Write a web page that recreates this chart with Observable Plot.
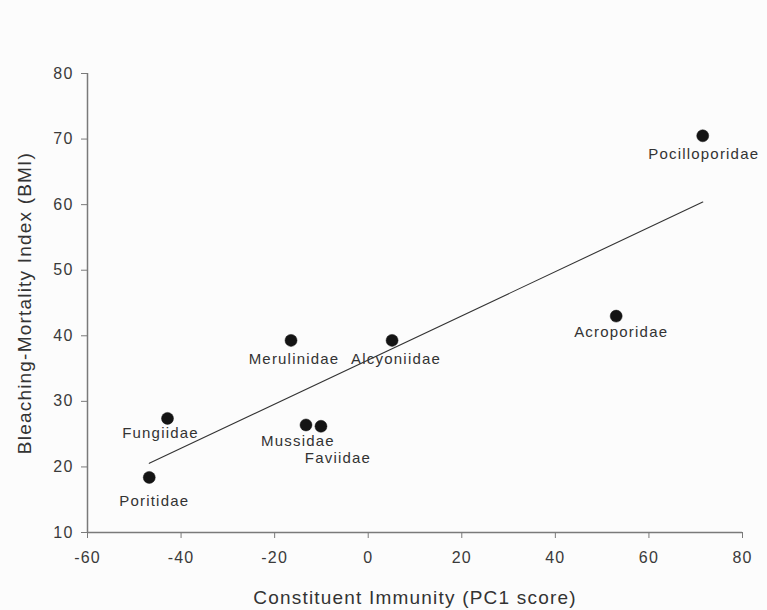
<!DOCTYPE html>
<html>
<head>
<meta charset="utf-8">
<script src="https://cdn.jsdelivr.net/npm/d3@7"></script>
<script src="https://cdn.jsdelivr.net/npm/@observablehq/plot@0.6"></script>
<style>
  html, body { margin: 0; padding: 0; background: #fcfcfc; }
  #chart svg { display: block; }
</style>
</head>
<body>
<div id="chart"></div>
<script>
// Coral families: constituent immunity (PC1 score) vs bleaching-mortality index
const families = ["Pocilloporidae", "Acroporidae", "Alcyoniidae", "Merulinidae",
                  "Mussidae", "Faviidae", "Fungiidae", "Poritidae"];
const pc1 = [71.5, 53.0, 5.1, -16.5, -13.3, -10.1, -42.9, -46.8];
const bmi = [70.5, 43.0, 39.3, 39.3, 26.4, 26.2, 27.4, 18.4];

const xTicks = [-60, -40, -20, 0, 20, 40, 60, 80];
const yTicks = [10, 20, 30, 40, 50, 60, 70, 80];
const xTitle = "Constituent Immunity (PC1 score)";
const yTitle = "Bleaching-Mortality Index (BMI)";

const rows = families.map((name, i) => ({name, pc1: pc1[i], bmi: bmi[i]}));
const xDomain = [xTicks[0], xTicks[xTicks.length - 1]];
const yDomain = [yTicks[0], yTicks[yTicks.length - 1]];

// label placement relative to each dot (pixels)
const nudge = {
  Pocilloporidae: [1, 18], Acroporidae: [5, 16], Alcyoniidae: [4, 19],
  Merulinidae: [3, 19], Mussidae: [-8, 16], Faviidae: [17, 32],
  Fungiidae: [-7, 15], Poritidae: [5, 24]
};

const font = "'Liberation Sans', Arial, sans-serif";
const ink = "#333";
const axisGray = "#7a7a7a";
const labelStyle = {fontFamily: font, fontSize: 15, fill: ink, letterSpacing: "1.3px"};
const titleStyle = {fontFamily: font, fontSize: 19, fill: ink, letterSpacing: "1px",
                    textAnchor: "middle", lineAnchor: "middle"};

const chart = Plot.plot({
  width: 767,
  height: 610,
  marginLeft: 87,
  marginRight: 25,
  marginTop: 73,
  marginBottom: 78,
  style: {fontFamily: font, fontSize: "16px", color: "#3a3a3a", background: "#fcfcfc", letterSpacing: "1.2px"},
  x: {domain: xDomain},
  y: {domain: yDomain},
  marks: [
    // axis baselines
    Plot.ruleY([yDomain[0]], {stroke: axisGray, strokeWidth: 1.5}),
    Plot.ruleX([xDomain[0]], {stroke: axisGray, strokeWidth: 1.5}),
    Plot.axisX({
      ticks: xTicks, tickFormat: d => String(d), tickSize: 6, tickPadding: 13,
      stroke: axisGray, label: null, fontSize: 16
    }),
    Plot.axisY({
      ticks: yTicks, tickFormat: d => String(d), tickSize: 6, tickPadding: 8,
      stroke: axisGray, label: null, fontSize: 16
    }),
    // axis titles
    Plot.text([xTitle], {text: d => d, frameAnchor: "bottom", dy: 65, ...titleStyle}),
    Plot.text([yTitle], {text: d => d, frameAnchor: "left", dx: -63, rotate: -90, ...titleStyle}),
    Plot.linearRegressionY(rows, {x: "pc1", y: "bmi", ci: 0, stroke: ink, strokeWidth: 1.1}),
    Plot.dot(rows, {x: "pc1", y: "bmi", r: 6, fill: "#141414", stroke: "#141414", strokeWidth: 0.5}),
    ...rows.map(d => Plot.text([d], {
      x: "pc1", y: "bmi", text: "name",
      dx: nudge[d.name][0], dy: nudge[d.name][1], ...labelStyle
    }))
  ]
});

document.getElementById("chart").append(chart);
</script>
</body>
</html>
